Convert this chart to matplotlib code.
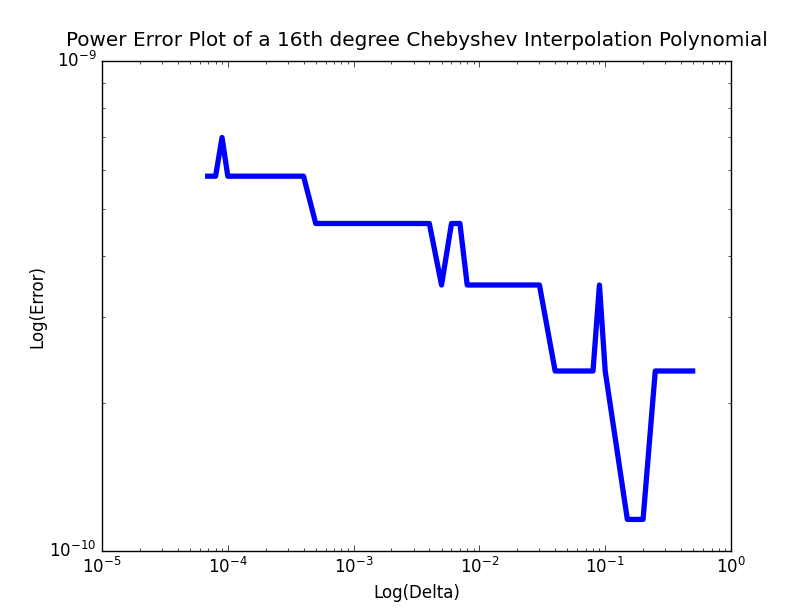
import matplotlib
matplotlib.use("Agg")
import matplotlib.pyplot as plt

plt.style.use("classic")

delta = [6.6e-5, 8e-5, 9e-5, 1e-4, 4e-4, 5e-4, 4e-3, 5e-3, 6e-3, 7e-3, 8e-3,
         3e-2, 4e-2, 8e-2, 9e-2, 0.1, 0.15, 0.2, 0.25, 0.52]
error = [5.82e-10, 5.82e-10, 6.98e-10, 5.82e-10, 5.82e-10, 4.66e-10, 4.66e-10,
         3.49e-10, 4.66e-10, 4.66e-10, 3.49e-10, 3.49e-10, 2.33e-10, 2.33e-10,
         3.49e-10, 2.33e-10, 1.16e-10, 1.16e-10, 2.33e-10, 2.33e-10]

fig = plt.figure(figsize=(8.12, 6.12), dpi=100)
fig.patch.set_facecolor("white")
ax = fig.add_axes([102/812, 61/612, 629/812, 490/612])
ax.loglog(delta, error, color="blue", linewidth=3.8, solid_capstyle="butt")
ax.set_xlim(1e-5, 1)
ax.set_ylim(1e-10, 1e-9)
ax.set_title("Power Error Plot of a 16th degree Chebyshev Interpolation Polynomial",
             fontsize=14.4, pad=11)
ax.set_xlabel("Log(Delta)", fontsize=12)
ax.set_ylabel("Log(Error)", fontsize=12, labelpad=2)
ax.tick_params(labelsize=12)
fig.savefig("out.png", dpi=100, facecolor="white")
